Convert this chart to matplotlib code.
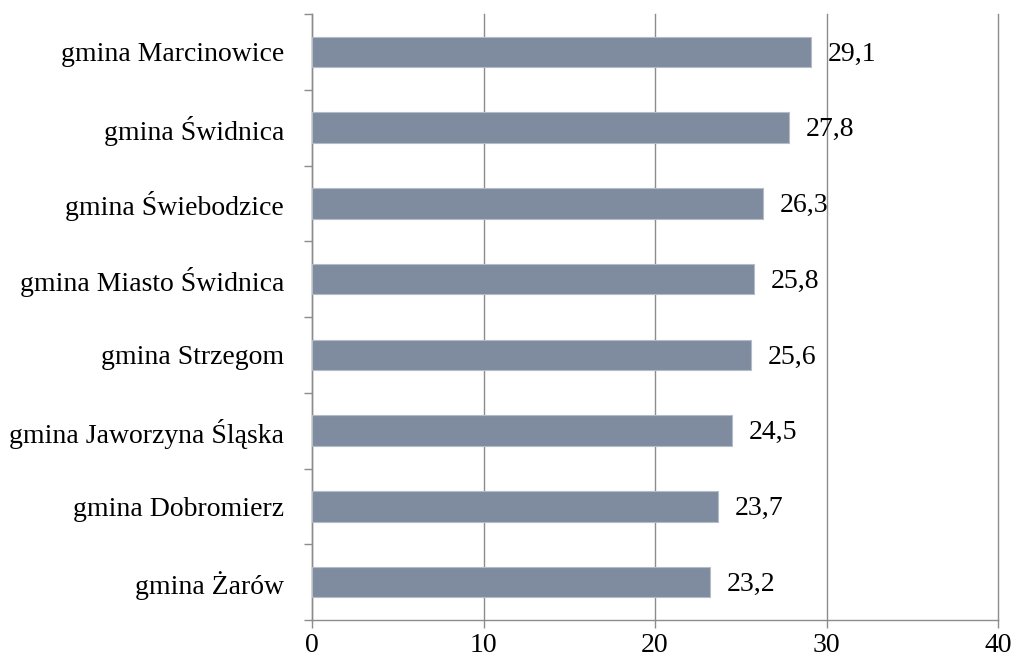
import matplotlib
matplotlib.use('Agg')
import matplotlib.pyplot as plt
import numpy as np

# data
categories = ['gmina Marcinowice', 'gmina Świdnica', 'gmina Świebodzice',
              'gmina Miasto Świdnica', 'gmina Strzegom', 'gmina Jaworzyna Śląska',
              'gmina Dobromierz', 'gmina Żarów']
values = [29.1, 27.8, 26.3, 25.8, 25.6, 24.5, 23.7, 23.2]
x_ticks = [0, 10, 20, 30, 40]

BAR_COLOR = '#7F8B9E'
GRID_COLOR = '#8C8C8C'
FS = 20

plt.rcParams['font.family'] = ['Liberation Serif', 'DejaVu Serif']

fig = plt.figure(figsize=(10.18, 6.63), dpi=100)
ax = fig.add_axes([312 / 1018, 1 - 620 / 663, 686 / 1018, 606 / 663])

n = len(categories)
ypos = np.arange(n)[::-1]
ax.barh(ypos, values, height=0.4, color=BAR_COLOR, edgecolor='#B4BCC8',
        linewidth=0.8, zorder=3)

for y, v in zip(ypos, values):
    ax.annotate(f'{v:.1f}'.replace('.', ','), xy=(v, y), xytext=(12, -1.5),
                textcoords='offset points', va='center', ha='left',
                fontsize=FS, zorder=4)

ax.set_xlim(0, 40)
ax.set_ylim(-0.5, n - 0.5)
ax.set_xticks(x_ticks)
ax.set_xticklabels([str(t) for t in x_ticks], fontsize=FS)

# category labels centred on bars, tick marks at boundaries
ax.set_yticks(ypos)
ax.set_yticklabels(categories, fontsize=FS)
ax.tick_params(axis='y', which='major', length=0, pad=20)
ax.set_yticks(np.arange(n + 1) - 0.5, minor=True)
ax.tick_params(axis='y', which='minor', length=6, color=GRID_COLOR, width=1)
ax.tick_params(axis='x', length=6, color=GRID_COLOR, width=1, pad=3)

ax.grid(axis='x', color=GRID_COLOR, linewidth=1, zorder=0)
for line in ax.get_xgridlines():
    line.set_clip_on(False)
for side in ['top', 'right']:
    ax.spines[side].set_visible(False)
for side in ['left', 'bottom']:
    ax.spines[side].set_color(GRID_COLOR)
    ax.spines[side].set_linewidth(1)

fig.savefig('out.png', dpi=100)
